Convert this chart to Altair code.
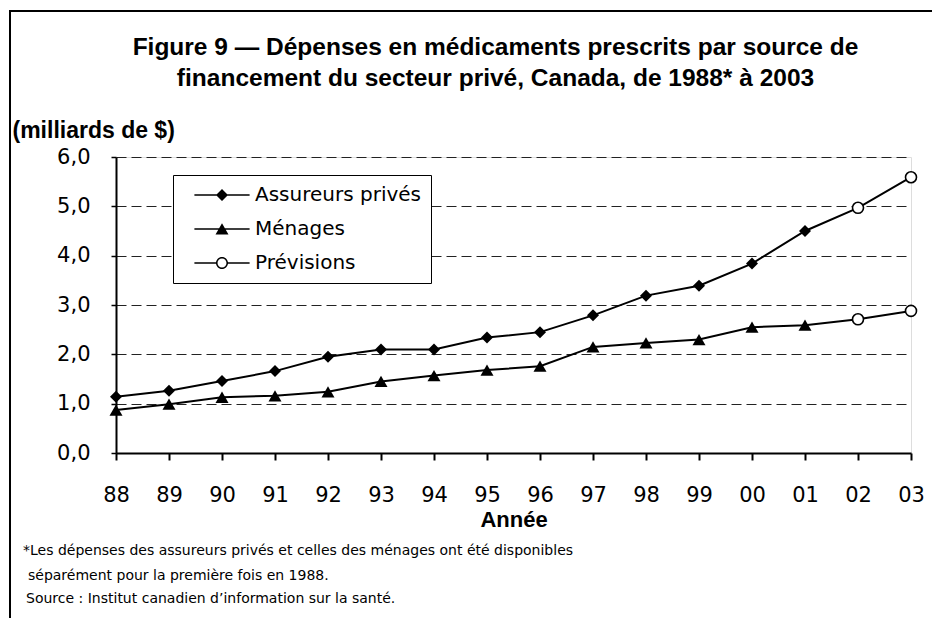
import altair as alt
import pandas as pd

# ---- data ----
annees = ["88", "89", "90", "91", "92", "93", "94", "95",
          "96", "97", "98", "99", "00", "01", "02", "03"]
assureurs_prives = [1.14, 1.26, 1.46, 1.66, 1.95, 2.10, 2.10, 2.34,
                    2.45, 2.79, 3.19, 3.39, 3.84, 4.50, 4.97, 5.59]
menages = [0.87, 0.99, 1.13, 1.16, 1.24, 1.45, 1.57, 1.68,
           1.76, 2.15, 2.23, 2.30, 2.55, 2.59, 2.71, 2.88]
premiere_annee_prevision = "02"
series = ["Assureurs privés", "Ménages"]
legende = ["Assureurs privés", "Ménages", "Prévisions"]
y_ticks = [0, 1, 2, 3, 4, 5, 6]

titre = ["Figure 9 \u2014 Dépenses en médicaments prescrits par source de",
         "financement du secteur privé, Canada, de 1988* à 2003"]
note_1 = "*Les dépenses des assureurs privés et celles des ménages ont été disponibles"
note_2 = "séparément pour la première fois en 1988."
source = "Source : Institut canadien d\u2019information sur la santé."

# ---- table ----
i_prev = annees.index(premiere_annee_prevision)
rows = []
for serie, vals in zip(series, [assureurs_prives, menages]):
    for i, (a, v) in enumerate(zip(annees, vals)):
        rows.append({"annee": a, "serie": serie, "valeur": v, "prevision": i >= i_prev})
df = pd.DataFrame(rows)

FONT = "DejaVu Sans"
BOLD_FONT = "Liberation Sans"

x_enc = alt.X("annee:O", sort=annees,
              scale=alt.Scale(type="point", padding=0),
              axis=alt.Axis(title="Année", labelAngle=0, labelFont=FONT, labelFontSize=21,
                            labelColor="black", labelPadding=24,
                            domainColor="black", domainWidth=2,
                            tickColor="black", tickWidth=2, tickSize=7,
                            titleFont=BOLD_FONT, titleFontSize=22, titleFontWeight="bold",
                            titleColor="black", titlePadding=4))
y_enc = alt.Y("valeur:Q", scale=alt.Scale(domain=[0, 6], nice=False, zero=True),
              axis=alt.Axis(values=y_ticks,
                            labelExpr="replace(format(datum.value, '.1f'), '.', ',')",
                            labelFont=FONT, labelFontSize=21, labelColor="black",
                            labelPadding=21,
                            grid=True, gridDash=[10, 5], gridColor="#222222", gridWidth=1,
                            domainColor="black", domainWidth=2,
                            tickColor="black", tickWidth=1.5, tickSize=5,
                            title="(milliards de $)", titleAngle=0, titleX=-104, titleY=-27,
                            titleAlign="left", titleBaseline="middle",
                            titleFont=BOLD_FONT, titleFontSize=23, titleFontWeight="bold",
                            titleColor="black"))
x_plain = alt.X("annee:O", sort=annees)
y_plain = alt.Y("valeur:Q")

base = alt.Chart(df)

lines = base.mark_line(color="black", strokeWidth=2).encode(
    x=x_enc, y=y_enc, detail="serie:N")

pts_a = base.transform_filter(
    (alt.datum.serie == series[0]) & (alt.datum.prevision == False)
).mark_point(shape="diamond", filled=True, color="black", size=144, opacity=1).encode(
    x=x_plain, y=y_plain)

pts_m = base.transform_filter(
    (alt.datum.serie == series[1]) & (alt.datum.prevision == False)
).mark_point(shape="triangle-up", filled=True, color="black", size=169, opacity=1).encode(
    x=x_plain, y=y_plain)

pts_p = base.transform_filter(alt.datum.prevision == True).mark_point(
    shape="circle", filled=False, fill="white", stroke="black", strokeWidth=1.6,
    size=121, opacity=1).encode(x=x_plain, y=y_plain)

# legend symbols: line + marker as custom paths
ligne = "M-4.6,-0.13H4.6V0.13H-4.6Z"
sym_losange = ligne + "M0,-1L1,0L0,1L-1,0Z"
sym_triangle = ligne + "M0,-0.95L1.08,0.92L-1.08,0.92Z"
sym_cercle = ("M-4.6,-0.13H-0.9V0.13H-4.6ZM0.9,-0.13H4.6V0.13H0.9Z"
              "M1,0A1,1 0 1,1 -1,0A1,1 0 1,1 1,0Z"
              "M0.75,0A0.75,0.75 0 1,0 -0.75,0A0.75,0.75 0 1,0 0.75,0Z")

legend_layer = alt.Chart(pd.DataFrame({"legende": legende})).transform_filter(
    "false"
).mark_point(filled=True, opacity=1, size=144).encode(
    shape=alt.Shape("legende:N",
                    scale=alt.Scale(domain=legende,
                                    range=[sym_losange, sym_triangle, sym_cercle]),
                    legend=alt.Legend(title=None, orient="none", legendX=57, legendY=18,
                                      strokeColor="black", fillColor="white",
                                      padding=10, rowPadding=14,
                                      symbolSize=144, symbolStrokeWidth=0,
                                      symbolFillColor="black",
                                      symbolOffset=29, labelOffset=23,
                                      labelFont=FONT, labelFontSize=20,
                                      labelColor="black", labelLimit=400)),
    color=alt.value("black"))

one = pd.DataFrame({"k": [0]})
frame_top = alt.Chart(one).mark_rule(color="black", strokeWidth=2).encode(
    x=alt.value(-107), x2=alt.value(900), y=alt.value(-146))
frame_left = alt.Chart(one).mark_rule(color="black", strokeWidth=2).encode(
    x=alt.value(-106), y=alt.value(-147), y2=alt.value(480))

def note(txt, x, y):
    return alt.Chart(one).mark_text(align="left", baseline="middle", font=FONT,
                                    fontSize=14, color="black").encode(
        x=alt.value(x), y=alt.value(y), text=alt.value(txt))

notes = [note(note_1, -93, 394), note(note_2, -88, 419), note(source, -90, 442)]

chart = alt.layer(frame_top, frame_left, lines, pts_a, pts_m, pts_p, legend_layer,
                  *notes).properties(
    width=795, height=296,
    padding={"left": 108, "top": 149, "right": 21, "bottom": 165},
    autosize=alt.AutoSizeParams(type="none"),
    title=alt.TitleParams(text=titre, font=BOLD_FONT, fontSize=24.5, fontWeight="bold",
                          color="black", anchor="middle", frame="group", dx=-18,
                          dy=92, lineHeight=31, offset=10),
).configure_view(stroke=None).configure(background="white")

chart.save("out.html", embed_options={"renderer": "svg", "actions": False})
